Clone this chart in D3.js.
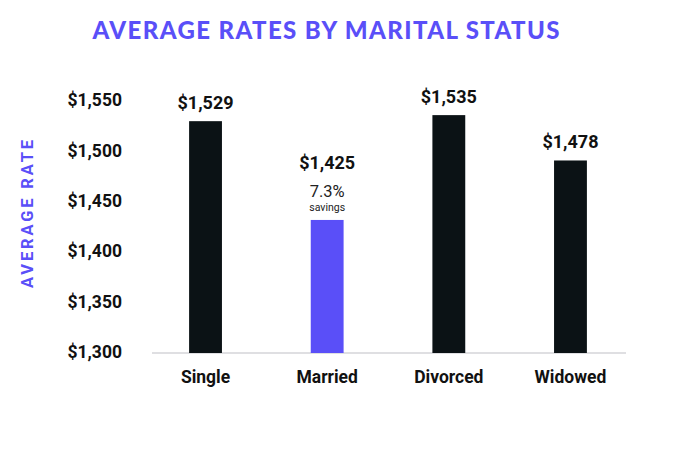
<!DOCTYPE html>
<html><head><meta charset="utf-8">
<script src="https://cdn.jsdelivr.net/npm/d3@7"></script>
<style>body{margin:0;background:#fff}svg{display:block}</style>
</head><body><svg id="c" width="700" height="463"></svg>
<script>
const categories = ["Single", "Married", "Divorced", "Widowed"];
const values = [1529, 1431, 1535, 1490];
const valueLabels = ["$1,529", "$1,425", "$1,535", "$1,478"];
const highlight = ["Married"];
const yTicks = [1300, 1350, 1400, 1450, 1500, 1550];
const savingsNote = ["7.3%", "savings"];

const svg = d3.select("#c");
const purple = "#5a4ff8", dark = "#0b1215";
const y = d3.scaleLinear().domain([1300, 1550]).range([352, 100]);
const x = d3.scaleBand().domain(categories).range([144.7, 631.3]).paddingInner(0.73).paddingOuter(0.365);

svg.append("text").attr("x", 326).attr("y", 39).attr("text-anchor", "middle")
  .attr("fill", purple).style("font-family", "Lato").style("font-weight", 900)
  .style("font-size", "24px").attr("textLength", 467).attr("lengthAdjust", "spacing")
  .text("AVERAGE RATES BY MARITAL STATUS");

svg.append("text").attr("transform", "translate(33,214) rotate(-90)").attr("text-anchor", "middle")
  .attr("fill", purple).style("font-family", "Roboto").style("font-weight", 700)
  .style("font-size", "16.5px").attr("textLength", 148).attr("lengthAdjust", "spacing").text("AVERAGE RATE");

const yAxis = svg.append("g").attr("transform", "translate(122,0)")
  .call(d3.axisLeft(y).tickValues(yTicks).tickSize(0).tickPadding(0).tickFormat(d => "$" + d3.format(",")(d)));
yAxis.select(".domain").remove();
yAxis.selectAll("text").attr("fill", "#111").style("font-family", "Roboto").style("font-weight", 700).style("font-size", "17.5px");

svg.append("line").attr("x1", 152).attr("x2", 626).attr("y1", 353).attr("y2", 353)
  .attr("stroke", "#d4d4d8").attr("stroke-width", 1.5);

svg.selectAll("rect.bar").data(categories).join("rect").attr("class", "bar")
  .attr("x", d => x(d)).attr("width", x.bandwidth())
  .attr("y", (d, i) => y(values[i])).attr("height", (d, i) => y(1300) - y(values[i]) + 1)
  .attr("fill", d => highlight.includes(d) ? purple : dark);

svg.selectAll("text.val").data(categories).join("text").attr("class", "val")
  .attr("x", d => x(d) + x.bandwidth() / 2)
  .attr("y", (d, i) => y(values[i]) - (highlight.includes(d) ? 51 : 12))
  .attr("text-anchor", "middle").attr("fill", "#111")
  .style("font-family", "Roboto").style("font-weight", 700).style("font-size", "18px")
  .text((d, i) => valueLabels[i]);

const mi = categories.indexOf("Married");
const mx = x("Married") + x.bandwidth() / 2;
svg.append("text").attr("x", mx).attr("y", y(values[mi]) - 23).attr("text-anchor", "middle")
  .attr("fill", "#222").style("font-family", "Roboto").style("font-size", "16.5px").text(savingsNote[0]);
svg.append("text").attr("x", mx).attr("y", y(values[mi]) - 9).attr("text-anchor", "middle")
  .attr("fill", "#222").style("font-family", "Roboto").style("font-size", "10.5px").text(savingsNote[1]);

const xAxis = svg.append("g").attr("transform", "translate(0,353)")
  .call(d3.axisBottom(x).tickSize(0).tickPadding(0));
xAxis.select(".domain").remove();
xAxis.selectAll("text").attr("dy", "0").attr("y", 30).attr("fill", "#111")
  .style("font-family", "Roboto").style("font-weight", 700).style("font-size", "17.5px");
</script></body></html>
